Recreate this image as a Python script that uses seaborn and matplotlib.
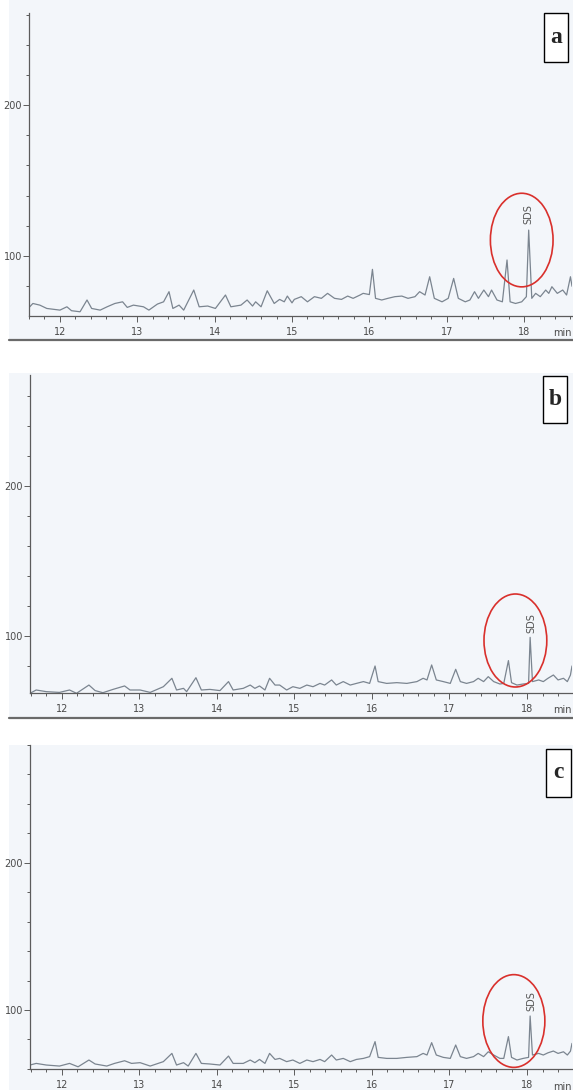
import matplotlib
matplotlib.use("Agg")
import matplotlib.pyplot as plt
from matplotlib.patches import Ellipse, Rectangle
from matplotlib.lines import Line2D
from matplotlib.ticker import MultipleLocator
import pandas as pd
import seaborn as sns

sns.set_style("white")
plt.rcParams["font.family"] = ["Liberation Sans Narrow", "DejaVu Sans"]

# retention time (min) / response
time_a = [11.61, 11.65, 11.74, 11.83, 12.00, 12.09, 12.15, 12.26, 12.35, 12.41,
          12.52, 12.61, 12.71, 12.81, 12.87, 12.95, 13.08, 13.15, 13.26, 13.34,
          13.41, 13.46, 13.54, 13.60, 13.73, 13.80, 13.91, 14.01, 14.14, 14.21,
          14.34, 14.42, 14.49, 14.53, 14.60, 14.68, 14.77, 14.84, 14.90, 14.94,
          15.00, 15.03, 15.12, 15.20, 15.29, 15.38, 15.46, 15.55, 15.64, 15.72,
          15.79, 15.88, 15.92, 16.00, 16.04, 16.08, 16.16, 16.24, 16.33, 16.42,
          16.50, 16.59, 16.65, 16.72, 16.78, 16.84, 16.94, 17.02, 17.09, 17.15,
          17.24, 17.30, 17.36, 17.41, 17.48, 17.54, 17.58, 17.65, 17.72, 17.78,
          17.82, 17.89, 17.97, 18.03, 18.06, 18.10, 18.15, 18.21, 18.28, 18.32,
          18.36, 18.43, 18.50, 18.55, 18.60, 18.62]
resp_a = [66.4, 68.6, 67.5, 65.3, 64.2, 66.4, 63.8, 63.1, 70.9, 65.3,
          64.2, 66.4, 68.6, 69.7, 66.0, 67.5, 66.4, 64.2, 68.2, 69.7,
          76.4, 65.3, 67.5, 64.2, 77.5, 66.4, 66.9, 65.3, 74.2, 66.4,
          67.5, 70.9, 66.9, 69.7, 66.4, 77.0, 68.6, 71.3, 69.7, 73.5,
          69.0, 71.3, 73.1, 69.7, 73.1, 72.0, 75.3, 72.0, 71.3, 73.5,
          72.0, 74.2, 75.3, 74.5, 91.2, 72.0, 70.9, 72.0, 73.1, 73.5,
          72.0, 73.1, 76.4, 74.2, 86.3, 72.0, 69.7, 72.0, 85.2, 72.0,
          69.7, 70.9, 76.4, 72.0, 77.5, 73.1, 77.5, 70.9, 69.7, 97.4,
          69.7, 68.6, 69.7, 73.1, 117.2, 72.0, 75.3, 73.1, 77.5, 75.3,
          79.7, 75.3, 77.5, 74.2, 86.3, 80.0]

time_b = [11.59, 11.67, 11.80, 11.97, 12.10, 12.19, 12.35, 12.43, 12.53, 12.66,
          12.81, 12.88, 13.01, 13.14, 13.31, 13.42, 13.48, 13.57, 13.61, 13.73,
          13.80, 13.91, 14.04, 14.15, 14.21, 14.34, 14.43, 14.49, 14.55, 14.62,
          14.68, 14.75, 14.81, 14.90, 14.98, 15.07, 15.16, 15.24, 15.33, 15.39,
          15.48, 15.54, 15.63, 15.72, 15.80, 15.89, 15.97, 16.04, 16.08, 16.19,
          16.32, 16.45, 16.58, 16.66, 16.71, 16.77, 16.83, 16.92, 17.01, 17.08,
          17.14, 17.22, 17.31, 17.37, 17.44, 17.50, 17.57, 17.65, 17.70, 17.76,
          17.80, 17.87, 17.95, 18.02, 18.04, 18.07, 18.15, 18.21, 18.27, 18.34,
          18.40, 18.47, 18.52, 18.56, 18.58]
resp_b = [61.8, 64.0, 62.9, 62.4, 64.0, 61.8, 67.3, 63.6, 62.2, 64.4,
          66.7, 64.0, 64.0, 62.4, 66.2, 71.8, 64.0, 65.1, 62.9, 72.2,
          64.0, 64.4, 63.6, 69.6, 64.0, 65.1, 67.3, 65.1, 66.7, 64.0,
          71.8, 67.3, 67.3, 64.0, 66.2, 65.1, 67.3, 66.2, 68.4, 67.3,
          70.7, 67.3, 69.6, 67.3, 68.4, 69.6, 68.4, 80.0, 69.6, 68.4,
          68.9, 68.4, 69.6, 71.8, 70.7, 80.7, 70.7, 69.6, 68.4, 77.8,
          69.6, 68.4, 69.6, 71.8, 69.6, 72.9, 69.6, 68.0, 68.4, 83.6,
          68.9, 67.3, 68.0, 68.4, 99.1, 69.6, 70.7, 69.6, 71.8, 74.0,
          70.7, 71.8, 69.6, 74.0, 80.0]

time_c = [11.59, 11.67, 11.80, 11.97, 12.10, 12.21, 12.35, 12.43, 12.58, 12.68,
          12.81, 12.90, 13.01, 13.14, 13.31, 13.42, 13.48, 13.57, 13.63, 13.73,
          13.80, 13.91, 14.04, 14.15, 14.21, 14.34, 14.43, 14.49, 14.55, 14.62,
          14.68, 14.75, 14.81, 14.90, 14.98, 15.07, 15.16, 15.24, 15.33, 15.39,
          15.48, 15.54, 15.63, 15.72, 15.80, 15.89, 15.97, 16.04, 16.08, 16.19,
          16.32, 16.45, 16.58, 16.66, 16.71, 16.77, 16.83, 16.92, 17.01, 17.08,
          17.14, 17.22, 17.31, 17.37, 17.44, 17.50, 17.57, 17.65, 17.70, 17.76,
          17.80, 17.87, 17.95, 18.02, 18.04, 18.07, 18.15, 18.21, 18.27, 18.34,
          18.40, 18.47, 18.52, 18.56, 18.58]
resp_c = [62.6, 63.7, 62.6, 61.9, 63.7, 61.4, 66.0, 63.3, 61.9, 63.7,
          65.5, 63.7, 64.2, 61.9, 64.9, 70.5, 62.6, 64.2, 61.9, 70.5,
          63.7, 63.3, 62.6, 68.7, 63.7, 63.7, 66.0, 64.2, 66.4, 63.7,
          70.5, 66.4, 67.1, 64.9, 66.0, 63.7, 66.0, 64.9, 66.4, 64.9,
          69.4, 66.0, 67.1, 64.9, 66.4, 67.1, 68.3, 78.5, 67.8, 67.1,
          67.1, 67.8, 68.3, 70.5, 69.4, 77.8, 69.4, 67.8, 67.1, 76.2,
          68.3, 67.1, 68.3, 70.5, 68.3, 71.6, 69.4, 67.1, 67.1, 81.9,
          67.8, 66.0, 67.1, 67.8, 95.9, 69.4, 70.5, 69.4, 70.9, 72.1,
          70.5, 71.6, 69.4, 72.0, 77.3]

panel_labels = ["a", "b", "c"]
peak_name = "SDS"
x_ticks = [12, 13, 14, 15, 16, 17, 18]
y_ticks = [100, 200]

W, H = 573, 1090
fig = plt.figure(figsize=(W / 100, H / 100), dpi=100)
bg = "#f3f6fa"
trace_col = "#7b8590"


def fx(px):
    return px / W


def fy(py):
    return 1 - py / H


# panel settings: axes box (px), x range, y range, panel bg band, label box, circle, SDS peak
panels = [
    dict(t=time_a, v=resp_a, box=(29, 13, 572, 316), xlim=(11.60, 18.62), ylim=(60.3, 261),
         band=(0, 340), lab=(544, 13, 568, 62), circ=(17.97, 110.6, 0.81, 62), sds=(18.06, 121)),
    dict(t=time_b, v=resp_b, box=(30, 375, 572, 693), xlim=(11.59, 18.58), ylim=(62.0, 274),
         band=(373, 718), lab=(543, 376, 567, 423), circ=(17.85, 97, 0.81, 62), sds=(18.05, 102)),
    dict(t=time_c, v=resp_c, box=(30, 745, 572, 1069), xlim=(11.59, 18.58), ylim=(59.9, 280),
         band=(745, 1090), lab=(546, 749, 571, 797), circ=(17.83, 92.5, 0.80, 63), sds=(18.05, 99)),
]

for p, lab in zip(panels, panel_labels):
    y0, y1 = p["band"]
    fig.patches.append(Rectangle((fx(9), fy(y1)), 1 - fx(9), (y1 - y0) / H,
                                 transform=fig.transFigure, fc=bg, ec="none", zorder=-5))
    if y1 < H:
        fig.lines.append(Line2D([fx(9), 1], [fy(y1), fy(y1)], transform=fig.transFigure,
                                color="#6a6a6a", lw=1.6, zorder=-4))

    l, t, r, b = p["box"]
    ax = fig.add_axes([fx(l), fy(b), (r - l) / W, (b - t) / H])
    ax.patch.set_alpha(0)

    df = pd.DataFrame({"time": p["t"], "resp": p["v"]})
    sns.lineplot(data=df, x="time", y="resp", ax=ax, color=trace_col, lw=0.9,
                 estimator=None, sort=False)

    ax.set_xlim(*p["xlim"])
    ax.set_ylim(*p["ylim"])
    ax.set_xlabel("")
    ax.set_ylabel("")
    ax.set_xticks(x_ticks)
    ax.set_yticks(y_ticks)
    ax.xaxis.set_minor_locator(MultipleLocator(0.2))
    ax.yaxis.set_minor_locator(MultipleLocator(20))
    for s in ["top", "right"]:
        ax.spines[s].set_visible(False)
    for s in ["left", "bottom"]:
        ax.spines[s].set_color("#5c5c5c")
        ax.spines[s].set_linewidth(0.9)
    ax.tick_params(which="both", bottom=True, left=True, direction="out",
                   color="#5c5c5c", width=0.7)
    ax.tick_params(which="major", length=4, labelsize=7, labelcolor="#4a4a4a")
    ax.tick_params(which="minor", length=2.5)
    ax.tick_params(axis="x", pad=4)
    ax.tick_params(axis="y", pad=1)

    ax.text(1.0, -0.055, "min", transform=ax.transAxes, ha="right", va="center",
            fontsize=7, color="#4a4a4a")

    cx, cy, cw, ch = p["circ"]
    ax.add_patch(Ellipse((cx, cy), cw, ch, fill=False, ec="#d9302c", lw=1.2, zorder=5))
    sx, sy = p["sds"]
    ax.text(sx, sy, peak_name, rotation=90, ha="center", va="bottom", fontsize=7,
            color="#555555", family=["DejaVu Sans"])

    bl, bt, br, bb = p["lab"]
    fig.patches.append(Rectangle((fx(bl), fy(bb)), (br - bl) / W, (bb - bt) / H,
                                 transform=fig.transFigure, fc="white", ec="black",
                                 lw=1.0, zorder=6))
    fig.text(fx((bl + br) / 2), fy((bt + bb) / 2), lab, ha="center", va="center",
             fontsize=17, fontweight="bold", family=["Liberation Serif"], zorder=7)

fig.savefig("out.png", dpi=100, facecolor="white")
